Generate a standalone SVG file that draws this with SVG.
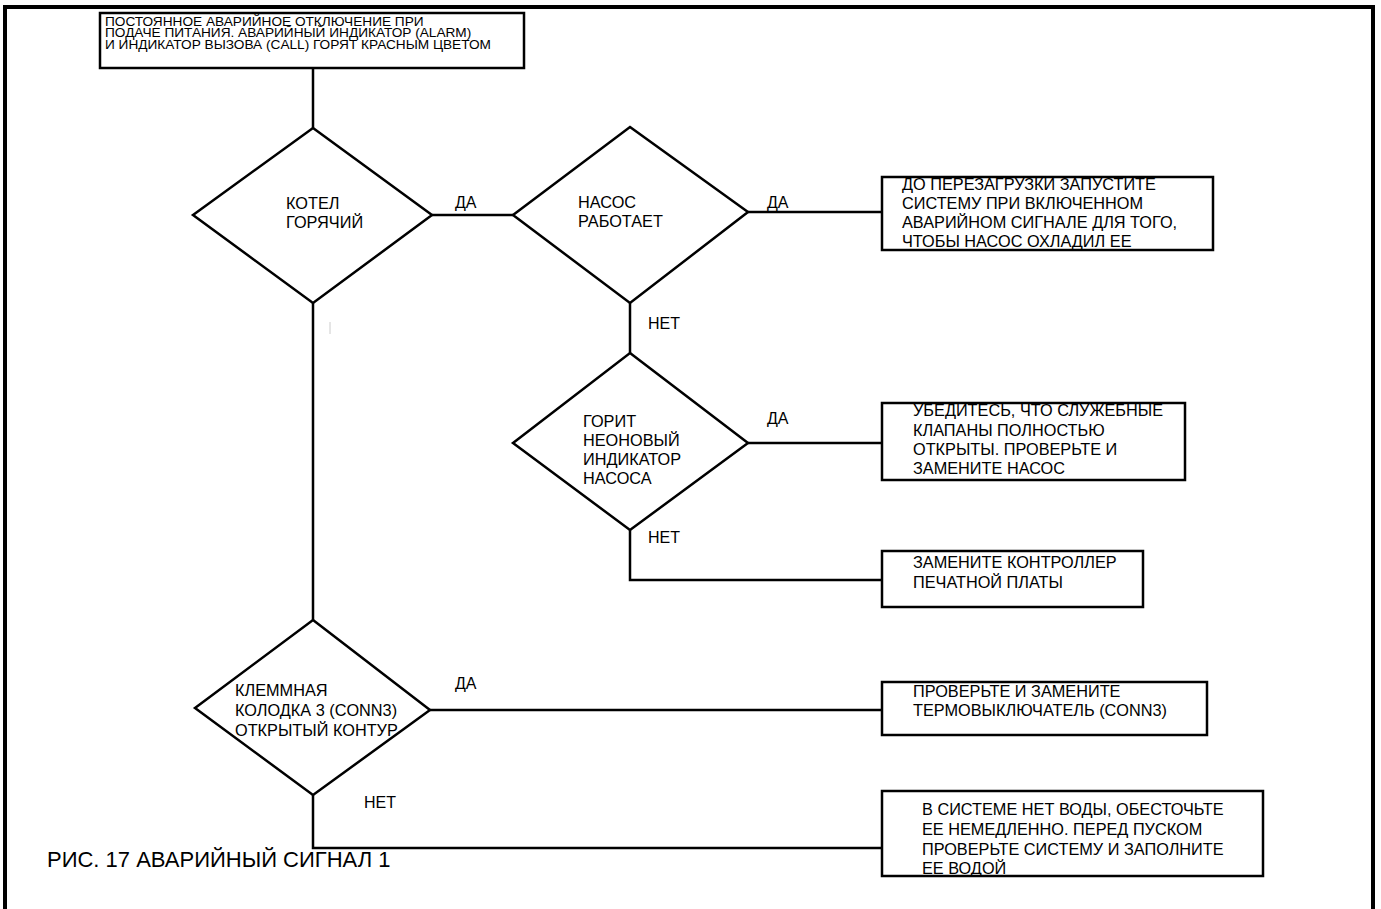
<svg xmlns="http://www.w3.org/2000/svg" width="1381" height="909" viewBox="0 0 1381 909">
<style>
.s{fill:#fff;stroke:#000;stroke-width:2.5}
.c{fill:none;stroke:#000;stroke-width:2.5}
text{font-family:"Liberation Sans",Arial,sans-serif;fill:#000}
.t{font-size:12.2px}
.m{font-size:16.3px}
.l{font-size:16px}
</style>
<rect width="1381" height="909" fill="#fff"/>
<path d="M5,909 V7 H1373 V909" fill="none" stroke="#000" stroke-width="4"/>
<g id="connectors">
<path class="c" d="M313,68 V128"/>
<path class="c" d="M432,215 H513"/>
<path class="c" d="M748,212 H882"/>
<path class="c" d="M630,303 V353"/>
<path class="c" d="M748,443 H882"/>
<path class="c" d="M630,530 V580 H882"/>
<path class="c" d="M313,303 V620"/>
<path class="c" d="M430,710 H882"/>
<path class="c" d="M313,795 V848 H882"/>
<text class="l" x="455" y="208">ДА</text>
<text class="l" x="767" y="208">ДА</text>
<text class="l" x="648" y="329">НЕТ</text>
<text class="l" x="767" y="424">ДА</text>
<text class="l" x="648" y="543">НЕТ</text>
<text class="l" x="455" y="689">ДА</text>
<text class="l" x="364" y="808">НЕТ</text>
<line x1="330" y1="322" x2="330" y2="334" stroke="#ccc" stroke-width="1"/>
</g>
<g id="start">
<rect class="s" x="100" y="13" width="424" height="55"/>
<g transform="translate(105,0) scale(1.12,1)">
<text class="t" x="0" y="26">ПОСТОЯННОЕ АВАРИЙНОЕ ОТКЛЮЧЕНИЕ ПРИ</text>
<text class="t" x="0" y="37.5">ПОДАЧЕ ПИТАНИЯ. АВАРИЙНЫЙ ИНДИКАТОР (ALARM)</text>
<text class="t" x="0" y="49">И ИНДИКАТОР ВЫЗОВА (CALL) ГОРЯТ КРАСНЫМ ЦВЕТОМ</text>
</g>
</g>
<g id="d1">
<path class="s" d="M313,128 L432,215 L313,303 L193,215 Z"/>
<text class="m" x="286" y="209">КОТЕЛ</text>
<text class="m" x="286" y="228">ГОРЯЧИЙ</text>
</g>
<g id="d2">
<path class="s" d="M630,127 L748,212 L630,303 L513,215 Z"/>
<text class="m" x="578" y="208">НАСОС</text>
<text class="m" x="578" y="227">РАБОТАЕТ</text>
</g>
<g id="b2">
<rect class="s" x="882" y="177" width="331" height="73"/>
<text class="m" x="902" y="190">ДО ПЕРЕЗАГРУЗКИ ЗАПУСТИТЕ</text>
<text class="m" x="902" y="209">СИСТЕМУ ПРИ ВКЛЮЧЕННОМ</text>
<text class="m" x="902" y="228">АВАРИЙНОМ СИГНАЛЕ ДЛЯ ТОГО,</text>
<text class="m" x="902" y="247">ЧТОБЫ НАСОС ОХЛАДИЛ ЕЕ</text>
</g>
<g id="d3">
<path class="s" d="M630,353 L748,443 L630,530 L513,443 Z"/>
<text class="m" x="583" y="427">ГОРИТ</text>
<text class="m" x="583" y="446">НЕОНОВЫЙ</text>
<text class="m" x="583" y="465">ИНДИКАТОР</text>
<text class="m" x="583" y="484">НАСОСА</text>
</g>
<g id="b3">
<rect class="s" x="882" y="403" width="303" height="77"/>
<text class="m" x="913" y="416">УБЕДИТЕСЬ, ЧТО СЛУЖЕБНЫЕ</text>
<text class="m" x="913" y="436">КЛАПАНЫ ПОЛНОСТЬЮ</text>
<text class="m" x="913" y="455">ОТКРЫТЫ. ПРОВЕРЬТЕ И</text>
<text class="m" x="913" y="474">ЗАМЕНИТЕ НАСОС</text>
</g>
<g id="b4">
<rect class="s" x="882" y="551" width="261" height="56"/>
<text class="m" x="913" y="568">ЗАМЕНИТЕ КОНТРОЛЛЕР</text>
<text class="m" x="913" y="588">ПЕЧАТНОЙ ПЛАТЫ</text>
</g>
<g id="d4">
<path class="s" d="M313,620 L430,710 L313,795 L195,708 Z"/>
<text class="m" x="235" y="696">КЛЕММНАЯ</text>
<text class="m" x="235" y="716">КОЛОДКА 3 (CONN3)</text>
<text class="m" x="235" y="736">ОТКРЫТЫЙ КОНТУР</text>
</g>
<g id="b5">
<rect class="s" x="882" y="682" width="325" height="53"/>
<text class="m" x="913" y="697">ПРОВЕРЬТЕ И ЗАМЕНИТЕ</text>
<text class="m" x="913" y="716">ТЕРМОВЫКЛЮЧАТЕЛЬ (CONN3)</text>
</g>
<g id="b6">
<rect class="s" x="882" y="791" width="381" height="85"/>
<text class="m" x="922" y="815">В СИСТЕМЕ НЕТ ВОДЫ, ОБЕСТОЧЬТЕ</text>
<text class="m" x="922" y="835">ЕЕ НЕМЕДЛЕННО. ПЕРЕД ПУСКОМ</text>
<text class="m" x="922" y="855">ПРОВЕРЬТЕ СИСТЕМУ И ЗАПОЛНИТЕ</text>
<text class="m" x="922" y="874">ЕЕ ВОДОЙ</text>
</g>
<text x="47" y="867" style="font-size:22px">РИС. 17 АВАРИЙНЫЙ СИГНАЛ 1</text>
</svg>
